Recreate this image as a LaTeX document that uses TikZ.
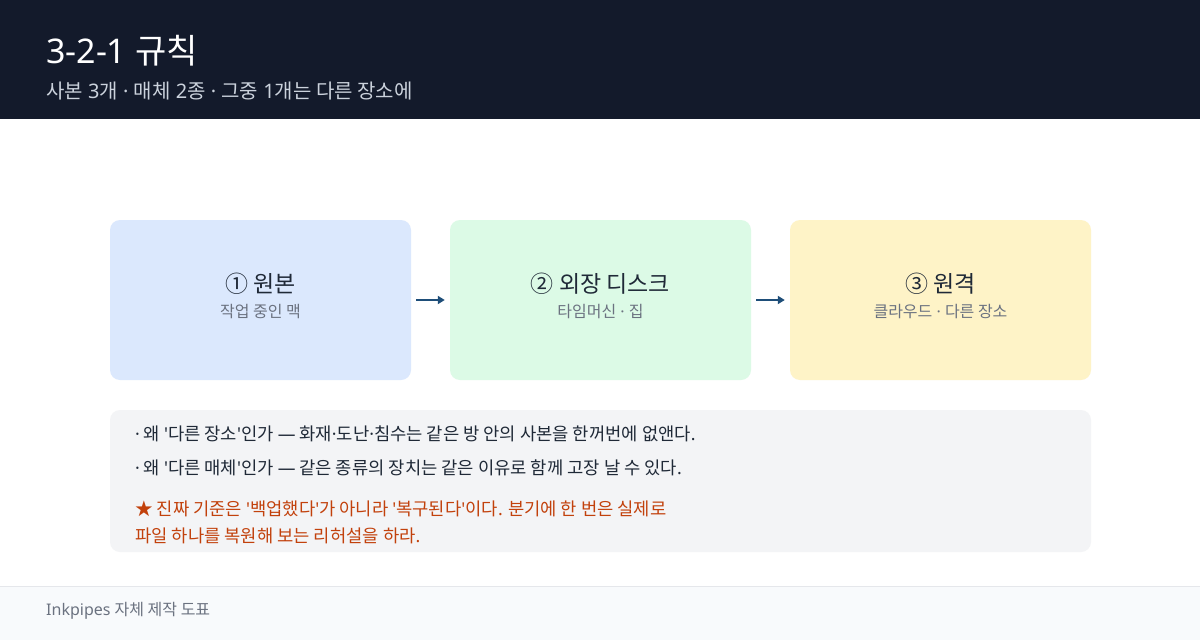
\documentclass[tikz,border=0pt]{standalone}
\usepackage{fontspec}
\setmainfont{Noto Sans CJK KR}
\newfontfamily\latf{Noto Sans}
\newcommand{\la}[1]{{\latf #1}}
\newcommand{\q}{{\latf\symbol{39}}}
\newcommand{\md}{{\latf\symbol{"00B7}}}
\usetikzlibrary{arrows.meta}
\definecolor{hdr}{HTML}{131A2B}
\definecolor{subt}{HTML}{CBD2DC}
\definecolor{bblue}{HTML}{DBE8FD}
\definecolor{bgreen}{HTML}{DCFAE6}
\definecolor{byellow}{HTML}{FEF3C7}
\definecolor{ink}{HTML}{1F2937}
\definecolor{muted}{HTML}{6B7280}
\definecolor{arrowc}{HTML}{1E4E79}
\definecolor{panel}{HTML}{F3F4F6}
\definecolor{warn}{HTML}{C2410C}
\definecolor{foot}{HTML}{F8FAFC}
\definecolor{footline}{HTML}{E5E7EB}
\tikzset{
  card/.style={rounded corners=10pt, minimum width=301pt, minimum height=160pt, inner sep=0pt},
  cardtitle/.style={anchor=base, text=ink, font=\fontsize{23}{27}\selectfont, inner sep=0pt},
  cardsub/.style={anchor=base, text=muted, font=\fontsize{16}{19}\selectfont, inner sep=0pt},
  flow/.style={draw=arrowc, line width=2.5pt, -{Triangle[length=7pt,width=8pt]}, shorten <=5pt, shorten >=5pt},
  note/.style={anchor=base west, inner sep=0pt, font=\fontsize{17.7}{21}\selectfont},
}
\begin{document}
\begin{tikzpicture}[x=1pt,y=-1pt]
\useasboundingbox (0,0) rectangle (1200,640);
\fill[white] (0,0) rectangle (1200,640);
% header
\fill[hdr] (0,0) rectangle (1200,119);
\node[anchor=base west, inner sep=0pt, text=white, font=\fontsize{34}{40}\selectfont] (title) at (46,63) {\la{3-2-1 }규칙};
\node[anchor=base west, inner sep=0pt, text=subt, font=\fontsize{20}{24}\selectfont] (subtitle) at (46,98) {사본\la{ 3}개\la{ · }매체\la{ 2}종\la{ · }그중\la{ 1}개는 다른 장소에};
% cards
\node[card, fill=bblue] (b1) at (260.5,300) {};
\node[card, fill=bgreen] (b2) at (600.5,300) {};
\node[card, fill=byellow] (b3) at (940.5,300) {};
\node[cardtitle] (t1) at (260.5,292) {① 원본};
\node[cardsub] (s1) at (260.5,317) {작업 중인 맥};
\node[cardtitle] (t2) at (600.5,292) {② 외장 디스크};
\node[cardsub] (s2) at (600.5,317) {타임머신\la{ · }집};
\node[cardtitle] (t3) at (940.5,292) {③ 원격};
\node[cardsub] (s3) at (940.5,317) {클라우드\la{ · }다른 장소};
\draw[flow] (b1) -- (b2);
\draw[flow] (b2) -- (b3);
% notes panel
\node[fill=panel, rounded corners=10pt, minimum width=981pt, minimum height=142pt, inner sep=0pt] (panel) at (600.5,481) {};
\node[note, text=ink] (n1) at (135,440) {\md\ 왜 \q 다른 장소\q 인가 \la{—} 화재\md 도난\md 침수는 같은 방 안의 사본을 한꺼번에 없앤다\la{.}};
\node[note, text=ink] (n2) at (135,474) {\md\ 왜 \q 다른 매체\q 인가 \la{—} 같은 종류의 장치는 같은 이유로 함께 고장 날 수 있다\la{.}};
\node[note, text=warn] (n3) at (135,515) {★ 진짜 기준은 \q 백업했다\q 가 아니라 \q 복구된다\q 이다\la{.} 분기에 한 번은 실제로};
\node[note, text=warn] (n4) at (135,542) {파일 하나를 복원해 보는 리허설을 하라\la{.}};
% footer
\fill[foot] (0,586) rectangle (1200,640);
\draw[footline, line width=1pt] (0,586) -- (1200,586);
\node[anchor=base west, inner sep=0pt, text=muted, font=\fontsize{16}{19}\selectfont] (footer) at (46,615) {\la{Inkpipes }자체 제작 도표};
\end{tikzpicture}
\end{document}
